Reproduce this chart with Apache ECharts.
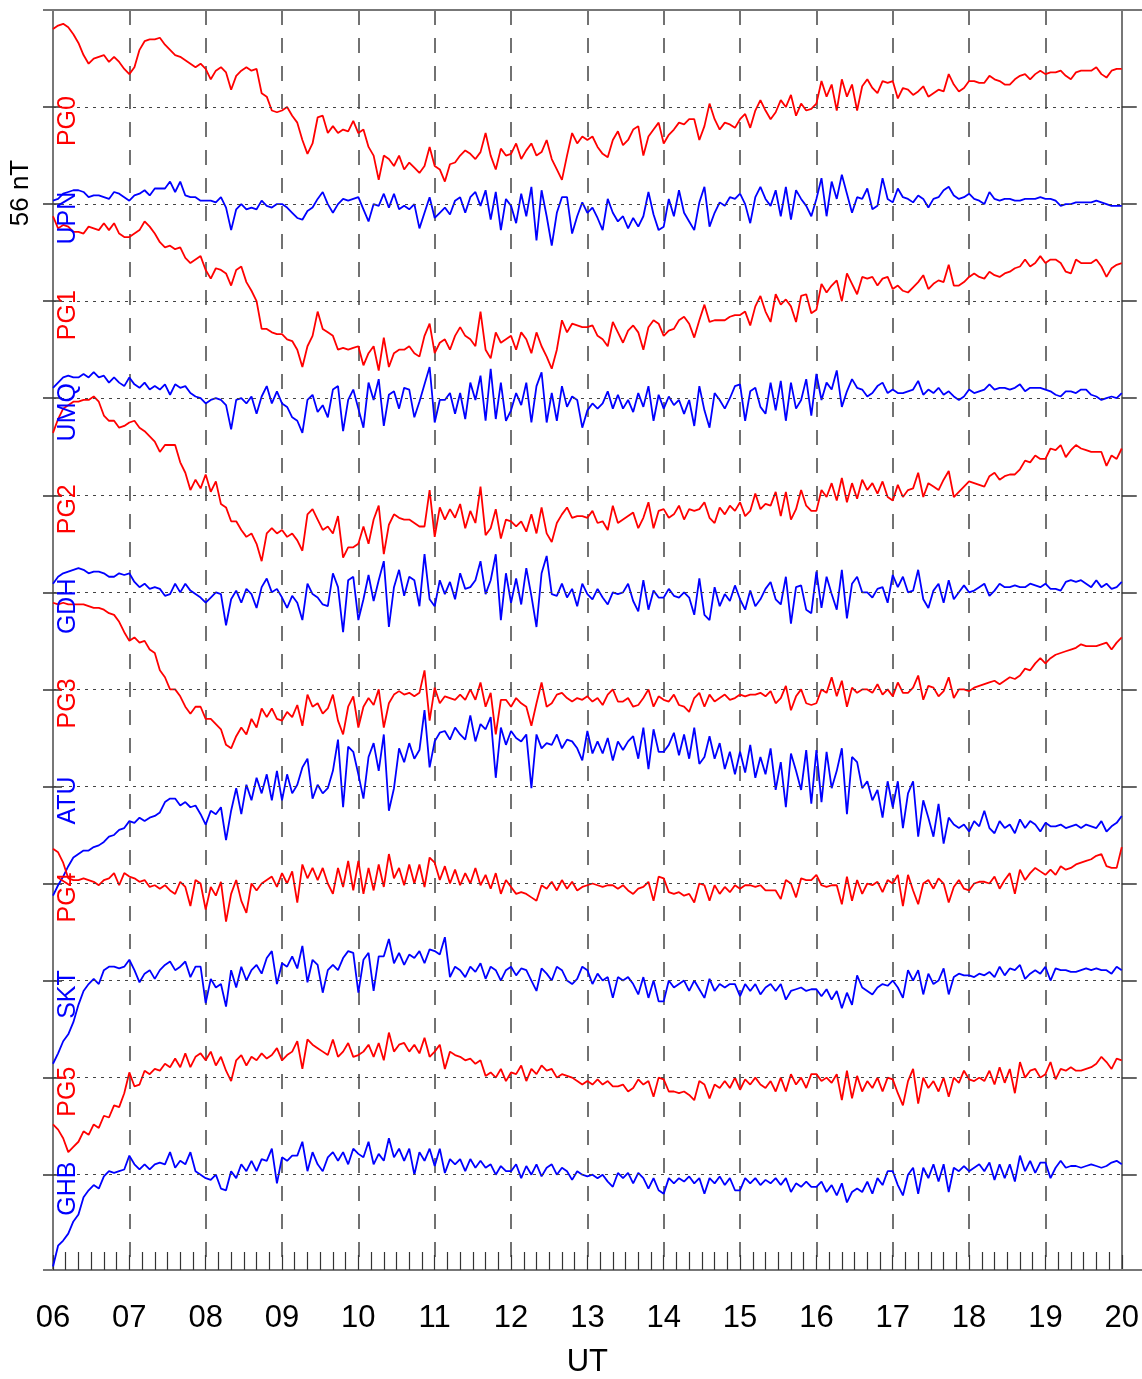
<!DOCTYPE html>
<html><head><meta charset="utf-8">
<script src="https://cdn.jsdelivr.net/npm/echarts@6/dist/echarts.min.js"></script>
<style>html,body{margin:0;padding:0;background:#fff}#c{width:1142px;height:1379px}</style>
</head><body><div id="c"></div>
<script>
// x tick labels (UT hours)
const hourLabels = ['06','07','08','09','10','11','12','13','14','15','16','17','18','19','20'];
const stations = ['PG0','UPN','PG1','UMQ','PG2','GDH','PG3','ATU','PG4','SKT','PG5','GHB'];
const stationColors = ['#ff0000','#0000ff','#ff0000','#0000ff','#ff0000','#0000ff','#ff0000','#0000ff','#ff0000','#0000ff','#ff0000','#0000ff'];
// sampling: one value every 4 minutes from 06:00 to 20:00 UT (211 samples); values are deviations in nT
const START_HOUR = 6, STEP_MIN = 4;
const SPACING_NT = 56;

const PG0 = [
45,47,48,46,42,37,30,25,28,29,30,26,29,26,22,
19,23,33,38,39,39,40,36,33,30,29,27,25,23,25,
22,16,21,23,20,10,18,21,23,21,22,8,6,-2,-3,
-2,0,-5,-9,-19,-27,-21,-6,-5,-15,-11,-15,-13,-14,-8,
-15,-13,-23,-28,-42,-28,-30,-34,-28,-36,-32,-35,-38,-34,-23,
-34,-36,-43,-33,-32,-28,-25,-27,-30,-26,-15,-28,-36,-24,-28,
-27,-21,-30,-25,-21,-28,-26,-19,-30,-36,-42,-28,-15,-21,-17,
-19,-17,-23,-27,-29,-19,-14,-22,-19,-13,-11,-28,-17,-13,-9,
-21,-16,-13,-9,-10,-7,-7,-19,-11,2,-7,-13,-9,-10,-12,
-7,-4,-12,-2,4,-2,-7,-3,4,0,7,-5,2,-2,-1,
2,15,6,13,-2,16,6,13,-2,12,16,11,8,15,14,
15,5,11,10,7,9,12,6,8,10,9,19,13,9,11,
15,15,14,14,18,16,15,13,13,16,18,19,16,19,21,
19,20,20,21,18,16,20,21,21,21,23,19,17,21,22,
22];
const UPN = [
2,3,6,7,8,8,7,4,5,5,4,3,7,6,4,
2,5,6,8,5,9,9,9,13,7,13,5,4,4,2,
2,2,1,4,-2,-15,-3,0,-3,-2,-3,2,-1,-2,0,
0,-2,-5,-8,-9,-4,-2,3,7,0,-5,0,3,2,3,
4,-3,-10,0,-1,6,-2,6,-3,-1,-3,0,-14,-5,4,
-8,-5,-2,-6,2,4,-5,4,7,-1,8,-9,7,-15,3,
-1,-11,6,-7,10,-21,8,-7,-24,-5,4,4,-17,-7,1,
-5,-2,-8,-15,3,-5,-10,-7,-14,-8,-13,-7,7,-6,-15,
-13,3,-7,8,-5,-10,-15,1,10,-13,-5,1,-1,4,3,
6,0,-11,4,10,3,-1,8,-7,10,-9,8,3,-1,-7,
3,15,-7,13,3,17,6,-5,4,3,9,-3,-1,15,3,
1,9,4,3,1,5,3,-2,3,4,8,10,5,3,4,
6,3,2,0,7,3,2,3,3,2,2,3,3,3,4,
3,3,2,-1,0,0,1,1,1,1,2,1,0,-1,-1,
-1];
const PG1 = [
49,42,44,43,40,40,39,43,42,41,45,41,45,39,37,
37,39,41,46,43,39,34,31,32,30,31,25,22,24,26,
18,13,19,18,16,9,18,20,11,6,0,-16,-16,-18,-19,
-19,-22,-23,-28,-38,-26,-20,-6,-16,-18,-20,-28,-27,-28,-27,
-26,-37,-30,-26,-40,-21,-38,-30,-28,-28,-26,-30,-32,-20,-13,
-30,-24,-22,-28,-20,-15,-20,-22,-26,-6,-28,-33,-18,-24,-22,
-20,-28,-18,-22,-30,-18,-26,-32,-39,-28,-11,-18,-13,-14,-15,
-15,-14,-20,-22,-26,-12,-18,-24,-17,-14,-18,-28,-15,-11,-13,
-20,-17,-16,-11,-9,-13,-21,-11,-2,-12,-11,-11,-11,-9,-8,
-8,-6,-14,-3,3,-6,-12,4,-2,1,-3,-12,3,4,-7,
-5,10,5,9,12,0,16,10,4,14,13,14,9,13,14,
7,9,6,5,8,11,15,7,10,12,11,21,9,9,11,
14,16,14,13,17,15,14,16,17,19,20,24,20,22,26,
22,24,24,22,17,16,24,22,22,22,24,20,14,19,21,
22];
const UMQ = [
6,9,12,13,12,12,14,12,15,12,13,9,12,9,7,
12,8,6,9,5,7,5,8,2,8,6,7,3,1,0,
-3,-1,0,-1,-4,-18,-1,0,-3,1,-9,1,7,-3,4,
-3,-5,-11,-13,-20,-1,2,-8,-4,-11,5,7,-19,-1,5,
-6,-17,9,-1,11,-16,2,4,-6,6,5,-11,-2,8,18,
-14,-1,-1,3,-9,3,-12,9,-1,13,-13,17,-12,9,-13,
-7,3,-4,9,-14,7,15,-14,3,-13,7,-5,1,-1,-17,
-7,-3,-6,-3,4,-6,2,-6,-1,-8,3,-5,7,-13,2,
-6,1,-4,-1,-9,-1,-16,7,-7,-17,3,-1,-6,0,7,
8,-13,4,6,-5,-9,9,-7,10,-13,9,-6,-1,11,-10,
14,-1,9,5,16,-5,4,11,6,5,1,3,7,9,3,
5,3,3,4,5,10,2,5,3,6,2,4,1,-1,1,
5,3,4,5,8,5,6,6,5,6,8,4,6,6,6,
5,4,2,1,4,4,3,5,5,2,1,-1,0,1,0,
3];
const PG2 = [
36,44,50,52,54,54,55,55,57,54,46,43,43,39,40,
42,43,39,37,34,31,25,29,29,29,19,13,3,9,4,
12,2,8,-5,-7,-15,-15,-20,-24,-22,-28,-38,-22,-19,-22,
-20,-24,-22,-26,-32,-11,-8,-14,-20,-18,-22,-12,-36,-30,-30,
-28,-18,-28,-14,-6,-34,-17,-11,-13,-14,-14,-16,-18,-18,3,
-24,-7,-14,-8,-13,-5,-19,-9,-16,5,-23,-19,-8,-25,-14,
-15,-18,-15,-21,-11,-22,-7,-22,-27,-16,-11,-7,-13,-12,-12,
-13,-9,-16,-15,-20,-6,-16,-14,-12,-10,-19,-13,-4,-19,-9,
-8,-13,-11,-6,-14,-8,-9,-8,-4,-13,-16,-7,-11,-6,-9,
-4,-12,-9,1,-8,-5,-6,2,-12,2,-14,-8,3,-6,-9,
-9,3,-1,7,-3,10,-4,7,-2,9,3,7,1,8,-1,
-3,6,-1,3,4,13,-1,7,5,3,9,14,-1,2,5,
8,7,6,5,11,13,9,11,12,12,15,20,19,23,21,
21,27,26,29,22,26,29,27,26,25,25,25,17,23,21,
27];
const GDH = [
5,9,11,12,13,14,13,11,12,12,11,9,9,11,10,
11,6,3,5,2,3,2,-2,-1,5,0,5,1,-1,-3,
-6,-3,0,-1,-19,-4,1,-6,2,-1,-9,3,8,0,2,
-3,-9,-2,-6,-16,5,-1,-3,-7,-8,11,3,-23,7,9,
-16,-4,10,-5,7,18,-20,3,13,-2,9,7,-8,22,-4,
-8,7,-1,6,-4,11,2,3,7,18,-1,7,22,-16,11,
-6,8,-7,14,-2,-20,11,21,-1,-2,5,-3,2,-8,5,
-1,-4,2,-3,-7,0,-1,0,5,-5,-11,7,-10,1,-3,
-3,2,-2,-3,0,-3,-13,8,-13,-16,3,-8,-1,-5,4,
-4,-10,1,-8,-4,2,6,-4,-7,9,-18,3,4,-10,-12,
12,-9,9,-1,-10,13,-15,5,9,0,0,-3,2,3,-6,
10,3,9,0,1,13,-4,-9,1,5,-6,7,-4,0,4,
0,1,3,5,-2,1,5,3,3,4,3,3,5,4,3,
5,2,2,1,6,7,6,7,5,3,7,3,5,2,3,
6];
const PG3 = [
50,49,50,49,49,49,49,48,47,47,46,44,43,39,33,
28,30,27,28,23,21,11,7,0,0,-4,-10,-14,-10,-10,
-17,-17,-20,-23,-32,-34,-27,-22,-26,-17,-22,-11,-16,-11,-17,
-18,-13,-16,-9,-21,-3,-10,-8,-14,-11,-3,-18,-26,-10,-4,
-22,-10,-5,-9,0,-22,-8,-3,-1,-3,-2,-4,-2,11,-18,
1,-8,-4,-5,-6,-3,-6,0,-6,4,-10,-2,-26,-6,-6,
-10,-5,-8,-10,-21,-8,4,-10,-8,-3,-2,-5,-7,-5,-6,
-4,-7,-5,-9,-3,0,-7,-7,-5,-10,-9,-5,0,-10,-4,
-6,-7,-3,-9,-10,-13,-5,-2,-10,-3,-7,-5,-3,-6,-5,
-3,-4,-3,-3,-2,-4,-1,-8,-5,2,-12,-4,0,-8,-9,
-8,0,-2,7,-4,5,-10,1,-2,0,0,-2,3,-3,0,
-4,4,-2,-2,1,8,-6,2,1,-4,-1,7,-5,0,0,
-1,1,2,3,4,5,3,5,7,6,8,12,11,15,18,
15,18,20,21,22,23,24,26,25,25,25,26,27,23,27,
30];
const ATU = [
-63,-57,-52,-46,-41,-39,-37,-37,-35,-34,-32,-29,-28,-25,-24,
-20,-21,-18,-20,-18,-17,-15,-9,-7,-7,-11,-9,-12,-11,-16,
-22,-14,-16,-12,-31,-14,-1,-16,1,-8,5,-4,7,-8,9,
-8,7,-4,1,11,16,-7,1,-4,-1,9,27,-12,23,20,
7,-7,17,25,9,30,-14,-1,22,14,25,16,21,44,11,
26,31,32,27,34,30,27,41,26,36,33,40,5,34,24,
32,28,26,30,-1,30,22,25,24,30,22,27,26,22,15,
32,19,26,19,28,15,26,21,26,29,16,34,10,33,20,
20,24,31,18,30,16,34,13,17,29,16,25,10,20,7,
20,8,24,5,17,7,22,-2,14,-12,19,9,-2,21,-10,
21,-9,20,-1,9,22,-16,17,14,-1,3,-8,-2,-18,3,
-12,3,-24,-4,3,-29,-8,-18,-29,-10,-33,-18,-22,-24,-22,
-26,-20,-23,-14,-24,-27,-20,-24,-22,-27,-19,-24,-20,-22,-26,
-21,-23,-23,-22,-24,-23,-22,-24,-22,-23,-24,-20,-26,-23,-21,
-17];
const PG4 = [
20,18,12,3,2,2,3,2,1,-1,2,3,6,-1,6,
4,3,1,2,-2,-1,-3,-1,-4,-6,1,-2,-13,2,0,
-15,-2,-7,1,-22,-6,2,-10,-17,0,-4,0,2,4,-2,
6,0,7,-11,11,3,9,2,9,0,-6,9,-2,13,-4,
13,-6,9,-4,11,-2,17,3,9,-1,11,0,11,-2,15,
12,2,10,0,8,-1,6,0,9,-1,5,-3,6,-6,2,
-2,-6,-5,-6,-8,-10,-1,-3,1,-4,2,-3,1,-4,-2,
-1,0,-1,-2,-1,-1,-3,-1,-4,-6,-3,-2,1,-10,4,
3,-5,-6,-5,-7,-6,-11,0,-1,-10,-1,-6,-2,-5,-1,
-3,-1,-1,-2,-1,-4,-4,-4,-9,2,0,-8,3,2,2,
5,-1,-2,-1,-1,-12,4,-10,2,-6,0,-1,1,-5,2,
0,5,-13,5,-4,-12,0,2,-3,3,0,-11,-2,2,-3,
-4,0,1,1,0,4,-3,2,6,-6,8,2,6,9,7,
5,8,5,10,8,9,11,12,13,14,16,17,10,9,9,
21];
const SKT = [
-48,-42,-35,-31,-24,-14,-6,-2,1,-2,6,8,8,7,8,
12,6,-1,4,6,1,6,9,11,6,8,11,2,8,8,
-13,1,-4,-2,-15,6,-4,8,0,6,9,4,13,17,-2,
10,8,14,7,20,-1,12,9,-7,6,9,6,13,17,16,
-7,12,16,-6,14,14,24,10,16,9,15,13,17,10,18,
17,15,25,2,8,6,2,8,5,10,1,8,6,0,6,
8,3,7,6,0,-6,7,4,0,8,6,0,-2,1,8,
6,-2,4,0,2,-10,2,0,2,-2,-8,2,-10,0,-12,
-12,0,-4,-2,0,-6,0,-5,-10,1,-6,-2,-4,-2,-2,
-9,-2,-6,-2,-8,-4,-2,-6,-2,-11,-6,-5,-4,-6,-5,
-5,-9,-5,-11,-6,-16,-7,-14,3,-4,-6,-8,-4,-2,-3,
0,-4,-10,6,0,6,-8,4,-2,0,7,-8,2,4,3,
3,2,4,3,5,2,8,3,7,6,9,1,4,6,4,
8,0,7,6,6,5,5,6,7,6,7,6,6,4,8,
6];
const PG5 = [
-27,-30,-35,-43,-40,-37,-31,-33,-27,-29,-22,-23,-16,-17,-9,
3,-5,-4,4,2,5,4,8,6,11,6,14,6,12,14,
10,15,7,12,4,-2,10,13,7,12,10,14,11,13,17,
10,13,15,21,5,22,19,17,15,13,22,12,15,20,12,
13,15,19,12,20,10,26,15,19,20,15,19,14,23,12,
15,19,5,15,13,12,10,11,8,10,1,3,0,5,-2,
3,2,7,-2,5,2,7,4,5,0,2,1,0,-2,-4,
-2,-4,-1,-4,-2,-5,-5,-4,-8,-6,-1,-4,-2,-11,0,
-1,-8,-8,-9,-8,-10,-13,-2,-4,-12,-4,-6,-2,-6,0,
-7,-1,-4,0,-4,-6,-2,-8,0,-8,2,-4,0,-6,2,
2,-2,0,-3,2,-13,4,-12,1,-8,-2,-6,0,-8,0,
-1,-9,-16,-2,5,-15,0,-6,-2,-8,0,-11,0,-3,4,
-1,-2,0,-2,4,-4,6,-3,5,-9,9,0,4,5,0,
2,9,-1,5,4,6,4,4,5,6,8,12,9,5,11,
10];
const GHB = [
-53,-41,-38,-34,-27,-23,-13,-9,-6,-8,-1,2,1,2,3,
11,6,3,6,3,6,7,6,13,4,8,6,13,2,0,
-2,-3,0,-8,-9,2,-2,6,2,8,2,9,8,15,-5,
10,8,11,11,19,2,13,6,2,10,13,8,13,6,15,
12,10,19,6,12,8,21,10,15,8,15,0,13,8,15,
5,15,1,9,6,9,2,9,4,8,4,6,0,5,2,
2,6,-2,5,0,6,-1,4,6,0,4,2,-3,2,0,
-1,0,-2,0,-4,-7,1,-2,1,-5,1,-2,-8,-2,-9,
-11,-2,-5,-2,-4,-1,-5,-2,-11,-2,-5,-1,-6,-2,-9,
-9,-2,-5,-2,-6,-3,-5,-2,-6,-2,-10,-5,-7,-4,-7,
-7,-4,-10,-6,-12,-5,-16,-10,-8,-10,-4,-11,-2,-6,2,
2,-6,-12,0,4,-11,4,-2,6,-4,6,-10,4,2,5,
2,4,6,2,7,-3,6,-2,6,-4,11,2,8,1,7,
7,-2,4,8,4,5,5,4,5,6,5,4,5,7,8,
6];

const stationData = [PG0,UPN,PG1,UMQ,PG2,GDH,PG3,ATU,PG4,SKT,PG5,GHB];

const FONT = '"Liberation Sans", Arial, Helvetica, sans-serif';
const Y_MIN = -671, Y_MAX = 56;
const baselines = stations.map((s, i) => -SPACING_NT * i);

const chart = echarts.init(document.getElementById('c'), null, {renderer: 'canvas'});

const lineSeries = stationData.map((vals, i) => ({
  name: stations[i],
  type: 'line',
  yAxisIndex: 0,
  showSymbol: false,
  symbol: 'none',
  animation: false,
  z: 3,
  lineStyle: {color: stationColors[i], width: 1.8},
  data: vals.map((v, k) => [START_HOUR + k * STEP_MIN / 60, v + baselines[i]])
}));

const yBase = {type: 'value', min: Y_MIN, max: Y_MAX, axisLabel: {show: false}, splitLine: {show: false}};

chart.setOption({
  animation: false,
  backgroundColor: '#ffffff',
  grid: {left: 53, right: 15, top: 10, bottom: 109, containLabel: false},
  xAxis: {
    type: 'value', min: 6, max: 20, interval: 1,
    axisLine: {show: true, onZero: false, lineStyle: {color: '#777', width: 2}},
    axisTick: {show: true, inside: true, length: 15, lineStyle: {color: '#333', width: 1.2}},
    minorTick: {show: true, splitNumber: 6, length: 18, lineStyle: {color: '#333', width: 1.2}},
    axisLabel: {
      color: '#000', fontSize: 31, fontFamily: FONT, margin: 33,
      formatter: v => hourLabels[Math.round(v) - START_HOUR]
    },
    splitLine: {show: true, showMinLine: false, showMaxLine: false,
      lineStyle: {color: '#444', width: 1.5, type: [15, 13]}}
  },
  yAxis: [
    Object.assign({}, yBase, {position: 'left',
      axisLine: {show: true, onZero: false, lineStyle: {color: '#777', width: 2}},
      axisTick: {show: true, inside: false, length: 10, customValues: baselines, lineStyle: {color: '#333', width: 1.5}}}),
    Object.assign({}, yBase, {position: 'left',
      axisLine: {show: false, onZero: false},
      axisTick: {show: true, inside: true, length: 9, customValues: baselines, lineStyle: {color: '#333', width: 1.5}}}),
    Object.assign({}, yBase, {position: 'right',
      axisLine: {show: true, onZero: false, lineStyle: {color: '#777', width: 2}},
      axisTick: {show: true, inside: false, length: 15, customValues: baselines, lineStyle: {color: '#333', width: 1.5}}})
  ],
  series: [{
    type: 'line', name: 'baselines', yAxisIndex: 0, data: [], z: 1, silent: true,
    markLine: {
      silent: true, symbol: ['none', 'none'], animation: false,
      label: {show: false},
      lineStyle: {color: '#444', width: 1, type: [3, 5]},
      data: baselines.map(b => ({yAxis: b}))
    }
  }].concat(lineSeries)
});

// text and frame extras positioned from the library's scales
const gx0 = chart.convertToPixel({xAxisIndex: 0}, 6);
const gx1 = chart.convertToPixel({xAxisIndex: 0}, 20);
const gyTop = chart.convertToPixel({yAxisIndex: 0}, Y_MAX);
const gyBot = chart.convertToPixel({yAxisIndex: 0}, Y_MIN);
const graphics = [
  {type: 'line', shape: {x1: gx0 - 10, y1: gyTop, x2: 1142, y2: gyTop}, style: {stroke: '#777', lineWidth: 2}, z: 10},
  {type: 'line', shape: {x1: gx0 - 10, y1: gyBot, x2: gx0, y2: gyBot}, style: {stroke: '#777', lineWidth: 2}, z: 10},
  {type: 'line', shape: {x1: gx1, y1: gyBot, x2: 1142, y2: gyBot}, style: {stroke: '#777', lineWidth: 2}, z: 10},
  {type: 'text', x: 21, y: 193, rotation: Math.PI / 2,
    style: {text: '56 nT', fill: '#000', font: '26px ' + FONT, textAlign: 'center', textVerticalAlign: 'middle'}, z: 10},
  {type: 'text', x: (gx0 + gx1) / 2, y: 1362,
    style: {text: 'UT', fill: '#000', font: '31px ' + FONT, textAlign: 'center', textVerticalAlign: 'middle'}, z: 10}
];
stations.forEach((s, i) => {
  const yb = chart.convertToPixel({yAxisIndex: 0}, baselines[i]);
  graphics.push({type: 'text', x: 68, y: yb + 14, rotation: Math.PI / 2,
    style: {text: s, fill: stationColors[i], font: '25px ' + FONT, textAlign: 'center', textVerticalAlign: 'middle'}, z: 5});
});
chart.setOption({graphic: graphics});
</script>
</body></html>
